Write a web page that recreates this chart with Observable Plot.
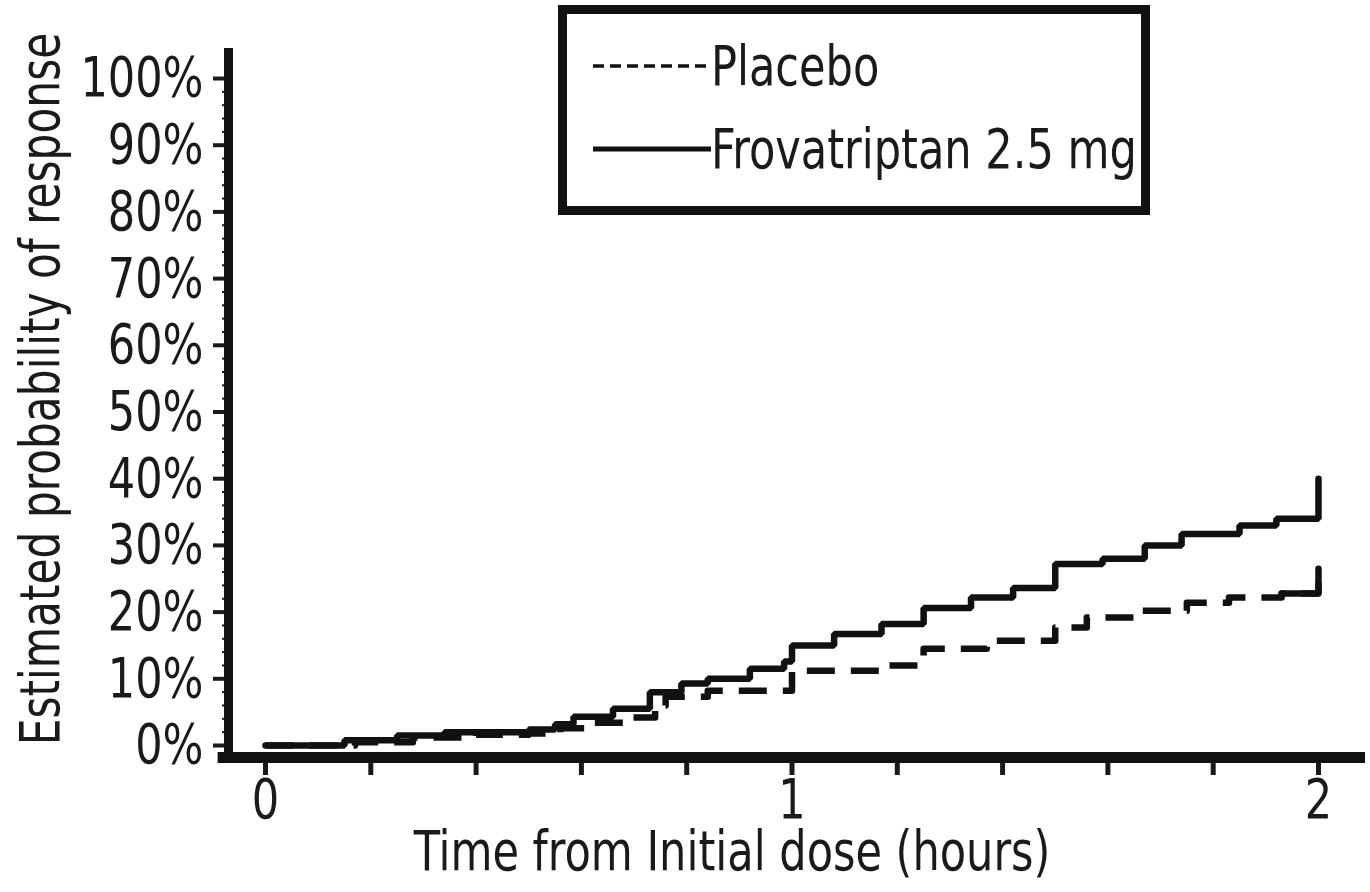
<!DOCTYPE html>
<html>
<head>
<meta charset="utf-8">
<script src="https://cdn.jsdelivr.net/npm/d3@7"></script>
<script src="https://cdn.jsdelivr.net/npm/@observablehq/plot@0.6"></script>
<style>
  html, body { margin: 0; padding: 0; background: #fff; }
  #wrap { position: relative; width: 1370px; height: 892px; font-family: "Liberation Sans Narrow", "Arial Narrow", "DejaVu Sans Condensed", "Roboto Condensed", sans-serif; color: #1a1a1a; }
  #legend { position: absolute; left: 558px; top: 5px; width: 592px; height: 210px; box-sizing: border-box; border: 9px solid #111; background: #fff; }
  .row { position: absolute; left: 26px; display: flex; align-items: center; font-size: 56px; line-height: 1; white-space: nowrap; }
  .row svg { display: block; }
  .row span { display: inline-block; transform: scaleX(0.855); transform-origin: left center; }
</style>
</head>
<body>
<div id="wrap"></div>
<script>
// ---- Data ----
const frovaTime = [0, 0.15, 0.25, 0.34, 0.5, 0.55, 0.585, 0.66, 0.73, 0.79, 0.84, 0.92, 0.985, 1.0, 1.08, 1.17, 1.25, 1.34, 1.42, 1.5, 1.59, 1.67, 1.74, 1.85, 1.92, 2.0];
const frovaProb = [0, 0.8, 1.5, 2.0, 2.4, 3.2, 4.3, 5.5, 8.0, 9.3, 10.0, 11.5, 12.6, 15.0, 16.7, 18.2, 20.6, 22.2, 23.6, 27.2, 28.0, 30.0, 31.7, 33.0, 34.0, 40.0];
const placeboTime = [0, 0.17, 0.28, 0.4, 0.5, 0.56, 0.62, 0.68, 0.74, 0.76, 0.84, 1.0, 1.18, 1.25, 1.37, 1.5, 1.56, 1.65, 1.75, 1.83, 1.93, 2.0];
const placeboProb = [0, 0.5, 1.2, 1.6, 1.8, 2.6, 3.4, 4.2, 6.0, 7.3, 8.2, 11.2, 12.0, 14.5, 15.7, 17.7, 19.2, 20.2, 21.4, 22.2, 22.8, 26.5];

const seriesNames = ["Placebo", "Frovatriptan 2.5 mg"];
const yTicks = [0, 10, 20, 30, 40, 50, 60, 70, 80, 90, 100];
const yMinorTicks = d3.range(0, 101, 2);
const xMinorTicks = [0.2, 0.4, 0.6, 0.8, 1.2, 1.4, 1.6, 1.8];
const xLabelTicks = [0, 1, 2];
const xTitle = "Time from Initial dose (hours)";
const yTitle = "Estimated probability of response";

// ---- Build tables ----
const frova = frovaTime.map((t, i) => ({t, p: frovaProb[i]}));
const placebo = placeboTime.map((t, i) => ({t, p: placeboProb[i]}));

const xDomain = [-0.0703, 2.0893];
const yDomain = [-1.8, 104.5];
const font = '"Liberation Sans Narrow", "Arial Narrow", "DejaVu Sans Condensed", "Roboto Condensed", sans-serif';

const chart = Plot.plot({
  width: 1370,
  height: 892,
  marginLeft: 228,
  marginRight: 5,
  marginTop: 48,
  marginBottom: 135,
  style: {fontFamily: font, color: "#1a1a1a", background: "#fff", overflow: "visible"},
  x: {domain: xDomain},
  y: {domain: yDomain},
  marks: [
    Plot.axisY({ticks: yMinorTicks, tickSize: 6, strokeWidth: 2, tickFormat: () => "", label: null}),
    Plot.axisY({ticks: yTicks, tickSize: 15, tickPadding: 10, strokeWidth: 4, fontSize: 56, tickFormat: d => d + "%", label: null}),
    Plot.axisX({ticks: xMinorTicks, tickSize: 18, strokeWidth: 5, tickFormat: () => "", label: null}),
    Plot.axisX({ticks: xLabelTicks, tickSize: 18, tickPadding: 3, strokeWidth: 5, fontSize: 56, tickFormat: d => String(d), label: null}),
    Plot.ruleX([xDomain[0]], {y1: yDomain[0], y2: yDomain[1], stroke: "#111", strokeWidth: 9}),
    Plot.ruleY([yDomain[0]], {x1: -0.09, x2: xDomain[1], stroke: "#111", strokeWidth: 11}),
    Plot.line(placebo, {x: "t", y: "p", curve: "step-after", stroke: "#111", strokeWidth: 6.5, strokeDasharray: "28,16", strokeLinecap: "butt"}),
    Plot.line(placebo.slice(-2), {x: "t", y: "p", curve: "step-after", stroke: "#111", strokeWidth: 6.5, strokeLinejoin: "miter"}),
    Plot.line(frova, {x: "t", y: "p", curve: "step-after", stroke: "#111", strokeWidth: 6.5, strokeLinejoin: "miter"}),
    Plot.text([xTitle], {frameAnchor: "bottom", dx: -65, dy: 112, fontSize: 56, fill: "#1a1a1a"}),
    Plot.text([yTitle], {frameAnchor: "left", textAnchor: "middle", lineAnchor: "middle", rotate: -90, dx: -187, dy: -14, fontSize: 55, fill: "#1a1a1a"})
  ]
});

const wrap = document.getElementById("wrap");
wrap.appendChild(chart);

// condense SVG texts horizontally (narrow typeface look)
chart.querySelectorAll("text").forEach(el => {
  if (!el.textContent) return;
  const L = el.getComputedTextLength();
  if (L > 0) {
    el.setAttribute("textLength", (L * 0.855).toFixed(1));
    el.setAttribute("lengthAdjust", "spacingAndGlyphs");
  }
});

// ---- Legend (inside the plot area, top) ----
const legend = document.createElement("div");
legend.id = "legend";
const rows = [
  {name: seriesNames[0], dash: "11,6", sw: 3.5, top: 24},
  {name: seriesNames[1], dash: null, sw: 5, top: 107}
];
rows.forEach(r => {
  const row = document.createElement("div");
  row.className = "row";
  row.style.top = r.top + "px";
  const svg = d3.create("svg").attr("width", 118).attr("height", 20);
  svg.append("line").attr("x1", 0).attr("x2", 118).attr("y1", 10).attr("y2", 10)
    .attr("stroke", "#111").attr("stroke-width", r.sw)
    .attr("stroke-dasharray", r.dash);
  row.appendChild(svg.node());
  const span = document.createElement("span");
  span.textContent = r.name;
  row.appendChild(span);
  legend.appendChild(row);
});
wrap.appendChild(legend);
</script>
</body>
</html>
